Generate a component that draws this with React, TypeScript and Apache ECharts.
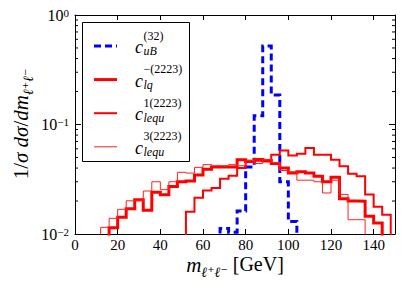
import React, { useEffect, useRef } from 'react';
import * as echarts from 'echarts';

// Histogram bins (lower edges, GeV), width 4 GeV
const binEdges = [0, 4, 8, 12, 16, 20, 24, 28, 32, 36, 40, 44, 48, 52, 56, 60, 64, 68, 72, 76, 80, 84, 88, 92, 96, 100, 104, 108, 112, 116, 120, 124, 128, 132, 136, 140, 144, 148];
const binWidth = 4;

// normalized distributions 1/sigma dsigma/dm (0 = empty bin)
const cuB32 = [0, 0, 0, 0, 0, 0, 0, 0, 0, 0, 0, 0, 0, 0, 0, 0, 0, 0.0112, 0.0104, 0.0162, 0.041, 0.12, 0.52, 0.186, 0.030, 0.013, 0, 0, 0, 0, 0, 0, 0, 0, 0, 0, 0, 0];
const clqMinus2223 = [0, 0, 0, 0, 0.0114, 0.0142, 0.017, 0.0206, 0.0165, 0.024, 0.0228, 0.0272, 0.030, 0.0305, 0.0346, 0.039, 0.041, 0.041, 0.041, 0.0477, 0.046, 0.048, 0.047, 0.044, 0.040, 0.036, 0.037, 0.036, 0.0336, 0.030, 0.033, 0.021, 0.020, 0.0199, 0.0145, 0.0126, 0, 0];
const clequ1_2223 = [0, 0, 0, 0, 0, 0, 0, 0, 0, 0, 0, 0, 0, 0.016, 0.0214, 0.025, 0.0263, 0.032, 0.034, 0.040, 0.0467, 0.047, 0.046, 0.053, 0.058, 0.052, 0.054, 0.061, 0.053, 0.053, 0.0477, 0.0415, 0.0355, 0.0337, 0.023, 0.0177, 0.015, 0];
const clequ3_2223 = [0, 0, 0, 0.0115, 0.0139, 0.0168, 0.0201, 0.0201, 0.0247, 0.030, 0.0254, 0.030, 0.0366, 0.036, 0.0406, 0.043, 0.042, 0.042, 0.043, 0.042, 0.047, 0.044, 0.048, 0.045, 0.038, 0.037, 0.031, 0.031, 0.030, 0.0237, 0.031, 0.023, 0.0135, 0.0135, 0, 0, 0, 0];

const minorTickValues = [0.02, 0.03, 0.04, 0.05, 0.06, 0.07, 0.08, 0.09, 0.2, 0.3, 0.4, 0.5, 0.6, 0.7, 0.8, 0.9];

const legendSup = ['(32)', '\u2212(2223)', '1(2223)', '3(2223)'];
const legendSub = ['uB', 'lq', 'lequ', 'lequ'];

const X_MIN = 0;
const X_MAX = 150;
const Y_MIN = 0.01;
const Y_MAX = 1;
const FLOOR = 0.001;

const SERIF = "'Liberation Serif', 'DejaVu Serif', serif";

const seriesStyles = [
  { color: '#0000ff', width: 3, type: [7, 4] as any },
  { color: '#ff0000', width: 3, type: 'solid' as any },
  { color: '#ff0000', width: 2, type: 'solid' as any },
  { color: '#ff2020', width: 1, type: 'solid' as any },
];

function stepPoints(values: number[]): [number, number][] {
  const pts: [number, number][] = [];
  let prev = 0;
  for (let i = 0; i < values.length; i++) {
    const lo = binEdges[i];
    const hi = lo + binWidth;
    const v = values[i];
    if (v > 0) {
      if (prev <= 0) pts.push([lo, FLOOR]);
      pts.push([lo, v], [hi, v]);
    } else if (prev > 0) {
      pts.push([lo, FLOOR]);
    }
    prev = v;
  }
  if (prev > 0) pts.push([binEdges[binEdges.length - 1] + binWidth, FLOOR]);
  return pts;
}

function buildOption(): any {
  const allSeries = [cuB32, clqMinus2223, clequ1_2223, clequ3_2223];
  const lineSeries = allSeries.map((vals, k) => ({
    type: 'line',
    xAxisIndex: 0,
    yAxisIndex: 0,
    data: stepPoints(vals),
    symbol: 'none',
    showSymbol: false,
    clip: true,
    silent: true,
    z: 2 + k,
    lineStyle: { color: seriesStyles[k].color, width: seriesStyles[k].width, type: seriesStyles[k].type, cap: 'butt', join: 'miter' },
  }));

  const minorTicks = {
    type: 'custom',
    xAxisIndex: 0,
    yAxisIndex: 0,
    silent: true,
    z: 10,
    data: minorTickValues.map((v) => [X_MIN, v]),
    renderItem: (_params: any, api: any) => {
      const v = api.value(1);
      const l = api.coord([X_MIN, v]);
      const r = api.coord([X_MAX, v]);
      return {
        type: 'group',
        children: [
          { type: 'line', shape: { x1: l[0], y1: l[1], x2: l[0] + 3, y2: l[1] }, style: { stroke: '#000', lineWidth: 1 } },
          { type: 'line', shape: { x1: r[0] - 3, y1: r[1], x2: r[0], y2: r[1] }, style: { stroke: '#000', lineWidth: 1 } },
        ],
      };
    },
  };

  const axisLineStyle = { show: true, onZero: false, lineStyle: { color: '#000', width: 1 } };

  // legend
  const legendChildren: any[] = [
    { type: 'rect', shape: { x: 82.5, y: 22.5, width: 107, height: 139 }, style: { fill: '#fff', stroke: '#000', lineWidth: 1 } },
  ];
  legendSup.forEach((sup, k) => {
    const ly = 46 + 33.6 * k;
    const B = ly + 7;
    const st = seriesStyles[k];
    legendChildren.push({
      type: 'line',
      shape: { x1: 94, y1: ly, x2: 117, y2: ly },
      style: { stroke: st.color, lineWidth: st.width, lineDash: Array.isArray(st.type) ? st.type : null, lineCap: 'butt' },
    });
    legendChildren.push({
      type: 'text', x: 135, y: B - 6,
      style: { text: 'c', fontSize: 18, fontStyle: 'italic', fontFamily: SERIF, fill: '#000', align: 'left', verticalAlign: 'middle' },
    });
    legendChildren.push({
      type: 'text', x: 143.5, y: B - 17.5,
      style: { text: sup, fontSize: 12, fontFamily: SERIF, fill: '#000', align: 'left', verticalAlign: 'middle' },
    });
    legendChildren.push({
      type: 'text', x: 143.5, y: B - 2,
      style: { text: legendSub[k], fontSize: 12, fontStyle: 'italic', fontFamily: SERIF, fill: '#000', align: 'left', verticalAlign: 'middle' },
    });
  });

  return {
    animation: false,
    backgroundColor: '#ffffff',
    grid: { left: 75, right: 10, top: 15, bottom: 54, outerBoundsMode: 'none', containLabel: false },
    xAxis: [
      {
        type: 'value', min: X_MIN, max: X_MAX, interval: 20, position: 'bottom',
        axisLine: axisLineStyle,
        axisTick: { show: true, inside: true, length: 5, lineStyle: { color: '#000', width: 1 } },
        axisLabel: { show: true, margin: 3, fontSize: 15, fontFamily: SERIF, color: '#000', formatter: (v: number) => (v >= X_MAX ? '' : String(v)) },
        splitLine: { show: false },
      },
      {
        type: 'value', min: X_MIN, max: X_MAX, interval: 20, position: 'top',
        axisLine: axisLineStyle,
        axisTick: { show: true, inside: true, length: 5, lineStyle: { color: '#000', width: 1 } },
        axisLabel: { show: false },
        splitLine: { show: false },
      },
    ],
    yAxis: [
      {
        type: 'log', logBase: 10, min: Y_MIN, max: Y_MAX, position: 'left',
        axisLine: axisLineStyle,
        axisTick: { show: true, inside: true, length: 6, lineStyle: { color: '#000', width: 1 } },
        axisLabel: {
          show: true, margin: 6, color: '#000',
          formatter: (v: number) => {
            const e = Math.round(Math.log10(v));
            return `{b|10}{s|${e < 0 ? '\u2212' + -e : e}}`;
          },
          rich: {
            b: { fontSize: 16, fontFamily: SERIF, color: '#000', lineHeight: 16, verticalAlign: 'bottom' },
            s: { fontSize: 11, fontFamily: SERIF, color: '#000', lineHeight: 11, verticalAlign: 'top', padding: [0, 0, 9, 0] },
          },
        },
        splitLine: { show: false },
      },
      {
        type: 'log', logBase: 10, min: Y_MIN, max: Y_MAX, position: 'right',
        axisLine: axisLineStyle,
        axisTick: { show: true, inside: true, length: 6, lineStyle: { color: '#000', width: 1 } },
        axisLabel: { show: false },
        splitLine: { show: false },
      },
    ],
    graphic: [
      { type: 'group', z: 100, children: legendChildren },
      {
        type: 'text', x: 22, y: 124, rotation: Math.PI / 2, z: 100,
        style: {
          text: '{n|1/}{i|\u03c3}{n| }{i|d\u03c3}{n|/}{i|dm}{s|\u2113\u207a\u2113\u207b}',
          align: 'center', verticalAlign: 'middle',
          rich: {
            n: { fontSize: 21, fontFamily: SERIF, fill: '#000', lineHeight: 24, verticalAlign: 'top' },
            i: { fontSize: 21, fontFamily: SERIF, fontStyle: 'italic', fill: '#000', lineHeight: 24, verticalAlign: 'top' },
            s: { fontSize: 14, fontFamily: SERIF, fontStyle: 'italic', fill: '#000', lineHeight: 14, padding: [13, 0, 0, 0] },
          },
        },
      },
      {
        type: 'text', x: 235, y: 266, z: 100,
        style: {
          text: '{i|m}{s|\u2113\u207a\u2113\u207b}{n| [GeV]}',
          align: 'center', verticalAlign: 'middle',
          rich: {
            n: { fontSize: 20, fontFamily: SERIF, fill: '#000', lineHeight: 24, verticalAlign: 'top' },
            i: { fontSize: 21, fontFamily: SERIF, fontStyle: 'italic', fill: '#000', lineHeight: 24, verticalAlign: 'top' },
            s: { fontSize: 14, fontFamily: SERIF, fontStyle: 'italic', fill: '#000', lineHeight: 14, padding: [13, 0, 0, 0] },
          },
        },
      },
    ],
    series: [...lineSeries, minorTicks],
  };
}

export default function App() {
  const ref = useRef<HTMLDivElement>(null);
  useEffect(() => {
    if (!ref.current) return;
    const chart = echarts.init(ref.current, undefined, { renderer: 'svg' });
    chart.setOption(buildOption());
    return () => chart.dispose();
  }, []);
  return <div ref={ref} style={{ position: 'fixed', left: 0, top: 0, width: 405, height: 288, background: '#fff' }} />;
}
